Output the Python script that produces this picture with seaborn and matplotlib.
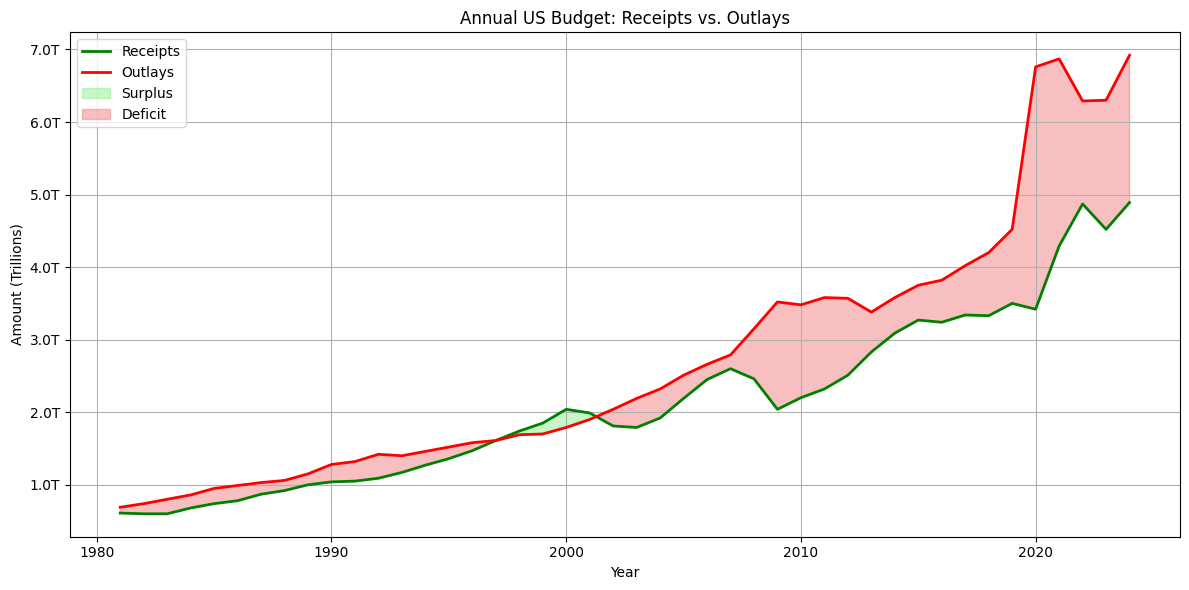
import matplotlib
matplotlib.use("Agg")
import matplotlib.pyplot as plt
import seaborn as sns
import numpy as np
import pandas as pd
from matplotlib.ticker import FuncFormatter

years = list(range(1981, 2025))
receipts = [0.61, 0.60, 0.60, 0.68, 0.74, 0.78, 0.87, 0.92, 1.00, 1.04,
            1.05, 1.09, 1.17, 1.27, 1.36, 1.47, 1.61, 1.74, 1.85, 2.04,
            1.99, 1.81, 1.79, 1.92, 2.19, 2.45, 2.60, 2.46, 2.04, 2.20,
            2.32, 2.51, 2.83, 3.09, 3.27, 3.24, 3.34, 3.33, 3.50, 3.42,
            4.29, 4.87, 4.52, 4.89]
outlays = [0.69, 0.74, 0.80, 0.86, 0.95, 0.99, 1.03, 1.06, 1.15, 1.28,
           1.32, 1.42, 1.40, 1.46, 1.52, 1.58, 1.61, 1.69, 1.70, 1.79,
           1.90, 2.04, 2.19, 2.32, 2.51, 2.66, 2.79, 3.15, 3.52, 3.48,
           3.58, 3.57, 3.38, 3.58, 3.75, 3.82, 4.02, 4.20, 4.52, 6.76,
           6.87, 6.29, 6.30, 6.92]

df = pd.DataFrame({"Year": years, "Receipts": receipts, "Outlays": outlays})

fig, ax = plt.subplots(figsize=(12, 6), dpi=100)
sns.lineplot(data=df, x="Year", y="Receipts", ax=ax, color="green", linewidth=2, label="Receipts")
sns.lineplot(data=df, x="Year", y="Outlays", ax=ax, color="red", linewidth=2, label="Outlays")

x = np.array(years, dtype=float)
r = np.array(receipts)
o = np.array(outlays)
ax.fill_between(x, r, o, where=r >= o, interpolate=True, color="lightgreen", alpha=0.5, label="Surplus")
ax.fill_between(x, r, o, where=r < o, interpolate=True, color="lightcoral", alpha=0.5, label="Deficit")

ax.set_title("Annual US Budget: Receipts vs. Outlays")
ax.set_xlabel("Year")
ax.set_ylabel("Amount (Trillions)")
ax.yaxis.set_major_formatter(FuncFormatter(lambda v, p: f"{v:.1f}T"))
ax.grid(True)
ax.legend(loc="upper left")
fig.tight_layout()
fig.savefig("out.png", dpi=100, bbox_inches="tight")
